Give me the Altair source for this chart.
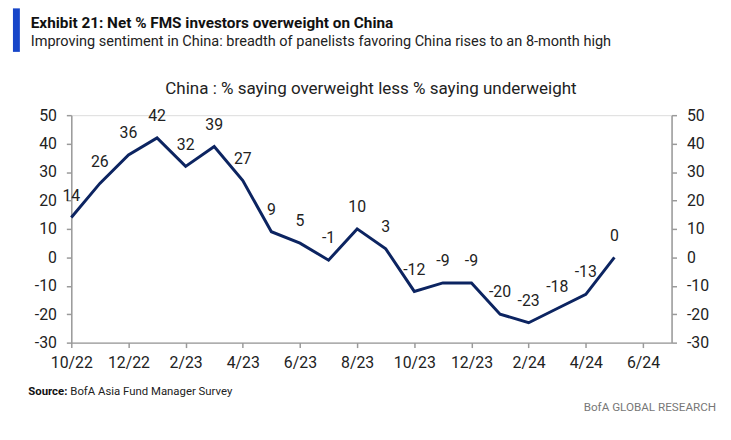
import altair as alt
import pandas as pd

months = ["10/22", "11/22", "12/22", "1/23", "2/23", "3/23", "4/23", "5/23", "6/23", "7/23",
          "8/23", "9/23", "10/23", "11/23", "12/23", "1/24", "2/24", "3/24", "4/24", "5/24"]
net_overweight = [14, 26, 36, 42, 32, 39, 27, 9, 5, -1, 10, 3, -12, -9, -9, -20, -23, -18, -13, 0]
tick_labels = ["10/22", "12/22", "2/23", "4/23", "6/23", "8/23", "10/23", "12/23", "2/24", "4/24", "6/24"]
y_ticks = [-30, -20, -10, 0, 10, 20, 30, 40, 50]

title = "Exhibit 21: Net % FMS investors overweight on China"
subtitle = "Improving sentiment in China: breadth of panelists favoring China rises to an 8-month high"
chart_title = "China : % saying overweight less % saying underweight"
source_bold = "Source:"
source_text = "BofA Asia Fund Manager Survey"
brand = "BofA GLOBAL RESEARCH"

FONT = "Roboto, Open Sans, sans-serif"
NAVY = "#0c2461"
AXIS = "#9a9a9a"
TXT = "#222222"

df = pd.DataFrame({
    "idx": list(range(len(months))),
    "month": months,
    "value": net_overweight,
    "label": [str(v) for v in net_overweight],
})

W, H = 607, 230
x_scale = alt.Scale(domain=[0, 21], nice=False, zero=False)
y_scale = alt.Scale(domain=[-30, 50], nice=False)

label_js = "[" + ",".join("'%s'" % t for t in tick_labels) + "]"
x_axis = alt.Axis(values=list(range(0, 21, 2)), labelExpr=label_js + "[round(datum.value/2)]",
                  grid=False, domainColor=AXIS, domainWidth=1.5, tickColor=AXIS, tickWidth=1.5,
                  tickSize=5, labelFont=FONT, labelFontSize=16, labelColor=TXT, labelPadding=7,
                  labelOverlap=False, labelFlush=False, title=None)


def y_axis(orient):
    return alt.Axis(orient=orient, values=y_ticks, grid=False, domainColor=AXIS,
                    domainWidth=1.5, tickColor=AXIS, tickWidth=1.5, tickSize=5,
                    labelFont=FONT, labelFontSize=16, labelColor=TXT,
                    labelPadding=10, labelOverlap=False, labelFlush=False,
                    labelExpr="toString(datum.value)", title=None)


base = alt.Chart(df)

line = base.mark_line(color=NAVY, strokeWidth=3).encode(
    x=alt.X("idx:Q", scale=x_scale, axis=x_axis),
    y=alt.Y("value:Q", scale=y_scale, axis=y_axis("left")),
)

labels = base.mark_text(font=FONT, fontSize=16, color=TXT, dy=-22).encode(
    x=alt.X("idx:Q", scale=x_scale),
    y=alt.Y("value:Q", scale=y_scale, axis=y_axis("right")),
    text="label:N",
)

dummy = pd.DataFrame({"a": [0]})


def txt(s, x, y, size, weight="normal", color=TXT, align="left"):
    return alt.Chart(dummy).mark_text(
        text=s, font=FONT, fontSize=size, fontWeight=weight, color=color,
        align=align, baseline="alphabetic"
    ).encode(x=alt.value(x), y=alt.value(y))


OX, OY = 72, 114  # plot origin on the page

bar = alt.Chart(dummy).mark_rect(color="#1746c9").encode(
    x=alt.value(13 - OX), x2=alt.value(20 - OX), y=alt.value(6 - OY), y2=alt.value(50 - OY)
)

layers = [
    line,
    labels,
    bar,
    txt(title, 31 - OX, 26 - OY, 15.5, weight="bold", color="#111"),
    txt(subtitle, 31 - OX, 44 - OY, 14.7),
    txt(chart_title, 375 - OX, 93 - OY, 17.2, align="center"),
    txt(source_bold, 68 - OX, 397 - OY, 11.5, weight="bold", color="#111", align="right"),
    txt(source_text, 71 - OX, 397 - OY, 11.5),
    txt(brand, 724 - OX, 413 - OY, 11.8, color="#777", align="right"),
]

chart = alt.layer(*layers).resolve_scale(y="independent").properties(
    width=W, height=H,
    autosize=alt.AutoSizeParams(type="none"),
    padding={"left": 64, "top": 106, "right": 52, "bottom": 88},
).configure_view(stroke=None).configure(background="white")

chart.save("out.html", embed_options={"renderer": "svg", "actions": False})
